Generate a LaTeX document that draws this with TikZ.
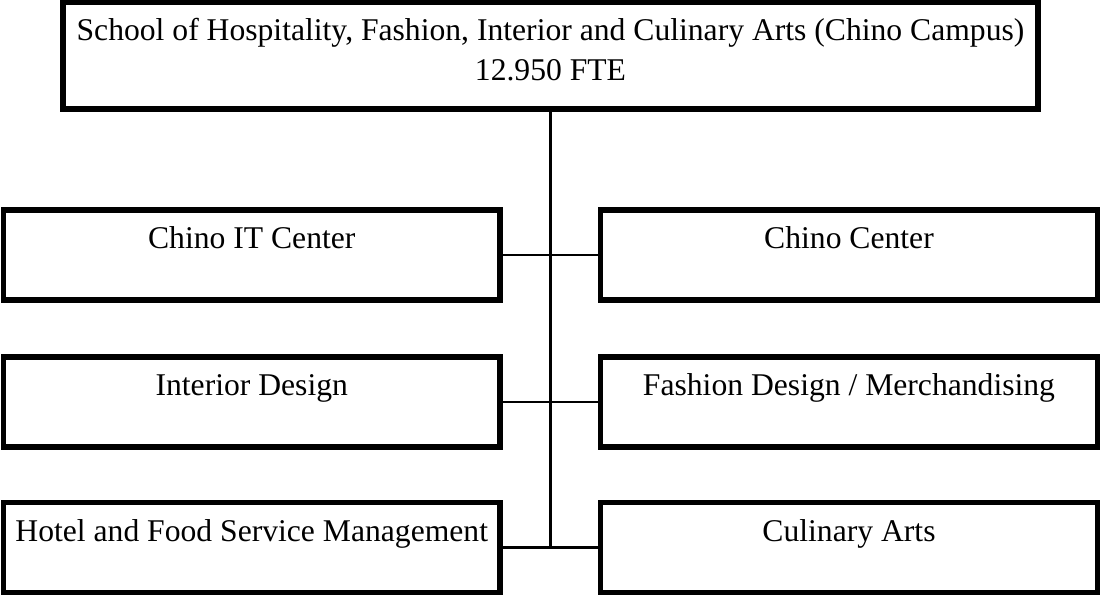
\documentclass[tikz,border=0pt]{standalone}
\usepackage{fontspec}
\setmainfont{Liberation Serif}
\usetikzlibrary{positioning}

\begin{document}
\begin{tikzpicture}[
  unit/.style={draw, rectangle, line width=3.1pt, minimum width=9.93cm, inner sep=0pt,
    text height=0.78cm, text depth=1.02cm, font=\fontsize{18}{21}\selectfont},
  link/.style={line width=1.3pt}]
\useasboundingbox (0,0) rectangle (22,-11.9);
% School box
\node[draw, rectangle, line width=3.1pt, minimum width=19.5cm, inner sep=0pt, align=center,
  text height=1.57cm, text depth=0.57cm, font=\fontsize{18}{22.8}\selectfont] (school) at (11.01,-1.11)
  {School of Hospitality, Fashion, Interior and Culinary Arts (Chino Campus)\\12.950 FTE};

% Units
\node[unit] (itcenter) at (5.035,-5.1) {Chino IT Center};
\node[unit] (center) at (16.98,-5.1) {Chino Center};
\node[unit] (interior) at (5.035,-8.04) {Interior Design};
\node[unit] (fashion) at (16.98,-8.04) {Fashion Design / Merchandising};
\node[unit] (hotel) at (5.035,-10.95) {Hotel and Food Service Management};
\node[unit] (culinary) at (16.98,-10.95) {Culinary Arts};

% Lines
\draw[link] (school.south) -- (school.south |- hotel.east);
\draw[link] (itcenter) -- (center);
\draw[link] (interior) -- (fashion);
\draw[link] (hotel) -- (culinary);
\end{tikzpicture}
\end{document}
